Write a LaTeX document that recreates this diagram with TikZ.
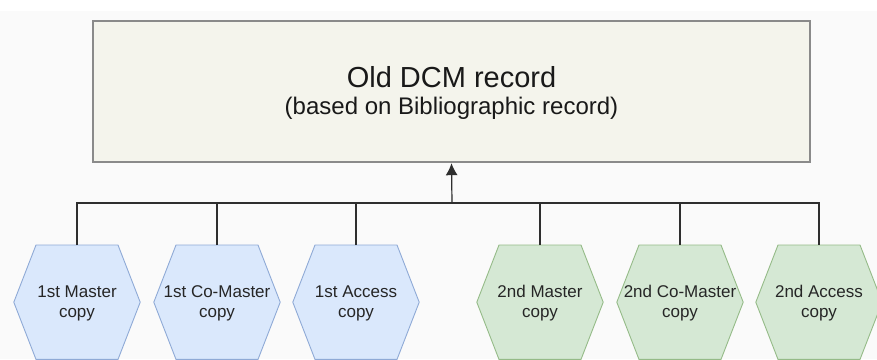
\documentclass[tikz,border=0pt]{standalone}
\usepackage{fontspec}
\setmainfont{Liberation Sans}
\usetikzlibrary{arrows.meta}
\definecolor{bgc}{HTML}{FAFAFA}
\definecolor{boxfill}{HTML}{F4F4EC}
\definecolor{boxline}{HTML}{8A8A8A}
\definecolor{bluefill}{HTML}{DAE8FC}
\definecolor{blueline}{HTML}{8FAAD6}
\definecolor{greenfill}{HTML}{D5E8D4}
\definecolor{greenline}{HTML}{95BB88}
\definecolor{linec}{HTML}{2E2E2E}
\tikzset{
  hexframe/.style={minimum width=126pt, minimum height=114pt, inner sep=0pt},
  bluehex/.style={fill=bluefill, draw=blueline, line width=0.9pt},
  greenhex/.style={fill=greenfill, draw=greenline, line width=0.9pt},
  hextext/.style={align=center, text=black!85, font=\fontsize{17}{20.5}\selectfont, inner sep=0pt},
  wire/.style={draw=linec, line width=1.2pt},
  mainbox/.style={draw=boxline, fill=boxfill, line width=1.2pt, minimum width=717pt, minimum height=141pt, inner sep=0pt},
  uparrow/.style={-{Latex[length=12pt,width=12pt]}}
}
\begin{document}
\begin{tikzpicture}[x=1pt,y=-1pt]
\useasboundingbox (0,0) rectangle (877,359);
\fill[white] (0,0) rectangle (877,359);
\fill[bgc] (0,11) rectangle (877,359);
\node[mainbox] (box) at (451.5,91.5) {};
\node[text=black!90, font=\fontsize{29}{32}\selectfont] (t0) at (451.5,77) {Old DCM record};
\node[text=black!90, font=\fontsize{24}{28}\selectfont] (t00) at (451.5,108) {(based on Bibliographic record)};
\coordinate (bus) at (452,203);
\foreach \n/\x/\s in {h1/77/bluehex, h2/217/bluehex, h3/356/bluehex, h4/540/greenhex, h5/680/greenhex, h6/819/greenhex} {
  \node[hexframe, anchor=north] (\n) at (\x,245) {};
  \path[\s] (\n.west) -- ([xshift=-41pt]\n.north) -- ([xshift=41pt]\n.north) -- (\n.east)
     -- ([xshift=41pt]\n.south) -- ([xshift=-41pt]\n.south) -- cycle;
}
\node[hextext] (l1) at ([yshift=-1pt]h1.center) {1st Master\\copy};
\node[hextext] (l2) at ([yshift=-1pt]h2.center) {1st Co-Master\\copy};
\node[hextext] (l3) at ([yshift=-1pt]h3.center) {1st Access\\copy};
\node[hextext] (l4) at ([yshift=-1pt]h4.center) {2nd Master\\copy};
\node[hextext] (l5) at ([yshift=-1pt]h5.center) {2nd Co-Master\\copy};
\node[hextext] (l6) at ([yshift=-1pt]h6.center) {2nd Access\\copy};
\draw[wire] (h1.north) -- (h1.north |- bus) -- (h6.north |- bus) -- (h6.north);
\foreach \h in {h2,h3,h4,h5} {\draw[wire] (\h.north) -- (\h.north |- bus);}
\draw[wire, uparrow, fill=linec] (bus) -- ([yshift=-0.6pt]box.south);
\end{tikzpicture}
\end{document}
